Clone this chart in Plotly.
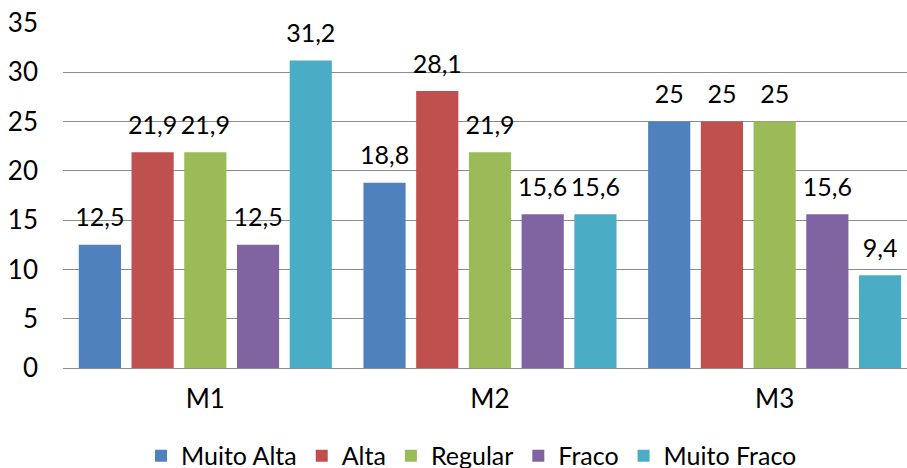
import plotly.graph_objects as go

categories = ["M1", "M2", "M3"]
series_names = ["Muito Alta", "Alta", "Regular", "Fraco", "Muito Fraco"]
muito_alta = [12.5, 18.8, 25]
alta = [21.9, 28.1, 25]
regular = [21.9, 21.9, 25]
fraco = [12.5, 15.6, 15.6]
muito_fraco = [31.2, 15.6, 9.4]
colors = ["#4F81BD", "#C0504D", "#9BBB59", "#8064A2", "#4BACC6"]
y_ticks = [0, 5, 10, 15, 20, 25, 30, 35]

values = [muito_alta, alta, regular, fraco, muito_fraco]
font = "Lato, Calibri, sans-serif"
fs = 26

fig = go.Figure()
for name, vals, col in zip(series_names, values, colors):
    fig.add_trace(go.Bar(
        x=categories, y=vals, name=name,
        marker=dict(color=col, line=dict(width=0)),
        hoverinfo="skip",
    ))
for name, vals in zip(series_names, values):
    fig.add_trace(go.Scatter(
        x=categories, y=vals, name=name, showlegend=False,
        mode="markers+text",
        marker=dict(size=18, color="rgba(0,0,0,0)"),
        text=[f"{v:g}".replace(".", ",") for v in vals],
        textposition="top center",
        textfont=dict(family=font, size=25, color="#000000"),
        cliponaxis=False,
    ))

fig.update_layout(
    width=907, height=468,
    margin=dict(l=63, r=0, t=23, b=100, autoexpand=False),
    paper_bgcolor="white", plot_bgcolor="white",
    barmode="group", bargap=0.074, bargroupgap=0.2,
    scattermode="group", scattergap=0.074,
    separators=",.",
    font=dict(family=font, size=fs, color="#000000"),
    showlegend=True,
    legend=dict(orientation="h", x=0.484, xanchor="center", y=-0.255, yanchor="middle",
                font=dict(family=font, size=25), itemwidth=30, tracegroupgap=0,
                bgcolor="rgba(0,0,0,0)"),
    xaxis=dict(range=[-0.5, 2.465], showgrid=False, showline=False, zeroline=False,
               tickfont=dict(family=font, size=fs), ticklabelstandoff=13),
    yaxis=dict(range=[0, 35], tickvals=y_ticks, showgrid=True, gridcolor="#8C8C8C",
               gridwidth=1.3, zeroline=True, zerolinecolor="#8C8C8C", zerolinewidth=1.3,
               showline=False, tickfont=dict(family=font, size=fs), ticklabelstandoff=24),
)

fig.write_html("out.html")
